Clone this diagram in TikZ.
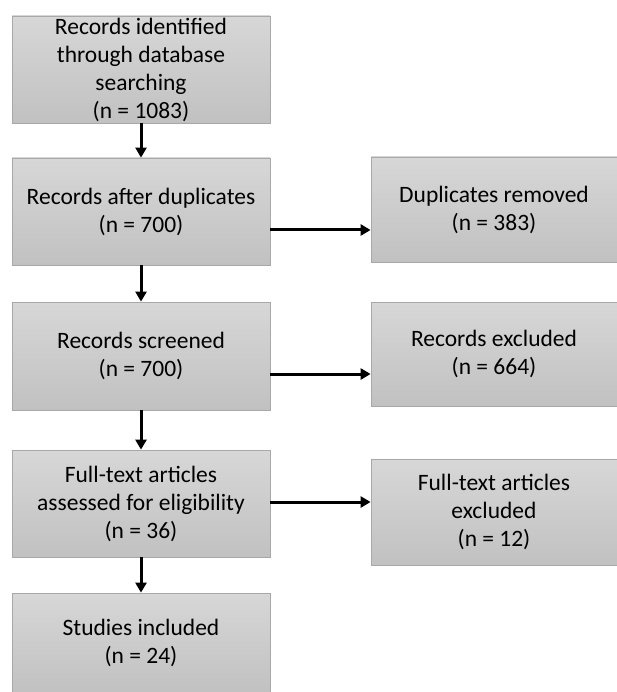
\documentclass[tikz,border=0pt]{standalone}
\usepackage{fontspec}
\setmainfont{Carlito}
\usetikzlibrary{arrows.meta}
\definecolor{boxtop}{HTML}{D7D7D7}
\definecolor{boxbot}{HTML}{C1C1C1}
\definecolor{boxline}{HTML}{A8A8A8}
\tikzset{
  flowbox/.style={draw=boxline, line width=0.8pt, top color=boxtop, bottom color=boxbot,
    align=center, font=\fontsize{23.5}{28}\selectfont, text=black, inner sep=0pt},
  arr/.style={line width=3pt, -{Triangle[length=10pt,width=11pt]}}
}
\begin{document}
\begin{tikzpicture}[x=1pt,y=-1pt]
\useasboundingbox (0,0) rectangle (617,692);
\node[flowbox, minimum width=258pt, minimum height=107pt] (b1) at (141,69.5)
  {Records identified\\through database\\searching\\(n = 1083)};
\node[flowbox, minimum width=258pt, minimum height=107pt] (b2) at (141,211.5)
  {Records after duplicates\\(n = 700)};
\node[flowbox, minimum width=258pt, minimum height=108pt] (b3) at (141,356)
  {Records screened\\(n = 700)};
\node[flowbox, minimum width=258pt, minimum height=107pt] (b4) at (141,503.5)
  {Full-text articles\\assessed for eligibility\\(n = 36)};
\node[flowbox, minimum width=258pt, minimum height=100pt] (b5) at (141,643)
  {Studies included\\(n = 24)};
\node[flowbox, minimum width=246pt, minimum height=105pt] (r1) at (494,209.5)
  {Duplicates removed\\(n = 383)};
\node[flowbox, minimum width=246pt, minimum height=104pt] (r2) at (494,354)
  {Records excluded\\(n = 664)};
\node[flowbox, minimum width=246pt, minimum height=106pt] (r3) at (494,512)
  {Full-text articles\\excluded\\(n = 12)};
\draw[arr] (b1) -- (b2);
\draw[arr] (b2) -- (b3);
\draw[arr] (b3) -- (b4);
\draw[arr] (b4) -- (b5);
\draw[arr] ([yshift=-18.5pt]b2.east) -- ([yshift=-20.5pt]r1.west);
\draw[arr] ([yshift=-18pt]b3.east) -- ([yshift=-20pt]r2.west);
\draw[arr] ([yshift=1.5pt]b4.east) -- ([yshift=10pt]r3.west);
\end{tikzpicture}
\end{document}
